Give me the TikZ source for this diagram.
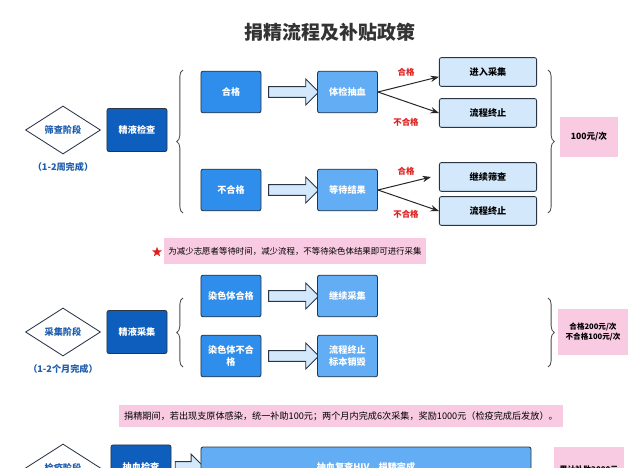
\documentclass[tikz,border=0pt]{standalone}
\usepackage{fontspec}
\setmainfont{Noto Sans CJK SC}
\usetikzlibrary{shapes.geometric,shapes.arrows,arrows.meta,decorations.pathreplacing}

\definecolor{deepblue}{HTML}{0E5EBE}
\definecolor{midblue}{HTML}{2F8DEB}
\definecolor{softblue}{HTML}{62ADF3}
\definecolor{paleblue}{HTML}{D3E8FB}
\definecolor{notepink}{HTML}{F9CBE2}
\definecolor{edge}{HTML}{2A3645}
\definecolor{labred}{HTML}{E0201E}
\definecolor{stageblue}{HTML}{1E5DAE}

\begin{document}
\begin{tikzpicture}[
    x=0.025cm, y=-0.025cm,
    txt/.style={font=\fontsize{6.5}{8}\selectfont\bfseries},
    stage/.style={diamond, draw=edge, line width=0.6pt, fill=white, minimum width=1.875cm, minimum height=1.2cm, inner sep=0pt, text=stageblue, txt},
    period/.style={text=stageblue, txt},
    main/.style={rectangle, rounded corners=1.5pt, draw=edge, line width=0.6pt, fill=deepblue, text=white, align=center, minimum width=1.5cm, minimum height=1.075cm, txt},
    cond/.style={main, fill=midblue, minimum height=1.04cm},
    check/.style={main, fill=softblue, minimum height=1.04cm},
    result/.style={main, fill=paleblue, text=black, minimum width=2.43cm, minimum height=0.72cm},
    fee/.style={rectangle, fill=notepink, align=center, font=\fontsize{6.1}{7.5}\selectfont\bfseries},
    note/.style={rectangle, fill=notepink, font=\fontsize{6}{7}\selectfont},
    verdict/.style={text=labred, font=\fontsize{6}{7}\selectfont\bfseries},
    bigarrow/.style={single arrow, draw=edge, line width=0.6pt, fill=paleblue, inner sep=3.5pt, single arrow head extend=0.19cm, minimum height=1.25cm},
    thinarrow/.style={-{Stealth[length=6pt,width=4.5pt]}, draw=black!85, line width=0.7pt},
    curly/.style={decorate, decoration={brace, amplitude=4.5pt}, draw=black!70, line width=0.6pt}
]
    \fill[white] (0,0) rectangle (640,468);
    \useasboundingbox (0,0) rectangle (640,468);

    \node[font=\fontsize{13.5}{16}\selectfont\bfseries, text=black!80] (title) at (330,32) {捐精流程及补贴政策};

    % screening stage
    \node[stage] (stage1) at (63,130) {筛查阶段};
    \node[period] (time1) at (63,167) {（1-2周完成）};
    \node[main] (semen1) at (137,130) {精液检查};

    \node[cond] (ok1) at (231,92) {合格};
    \node[cond] (bad1) at (231,190) {不合格};
    \node[bigarrow] (ba1) at (291,92) {};
    \node[bigarrow] (ba2) at (291,190) {};
    \node[check] (exam1) at (347.5,92) {体检抽血};
    \node[check] (wait1) at (347.5,190) {等待结果};

    \node[result] (enter1) at (488,72) {进入采集};
    \node[result] (stop1) at (488,113) {流程终止};
    \node[result] (cont1) at (488,177) {继续筛查};
    \node[result] (stop2) at (488,211) {流程终止};

    \draw[thinarrow] (exam1.east) -- ([yshift=-0.12cm]enter1.west);
    \draw[thinarrow] (exam1.east) -- (stop1.west);
    \draw[thinarrow] (wait1.east) -- ([xshift=-0.2cm]cont1.west);
    \draw[thinarrow] (wait1.east) -- (stop2.west);

    \node[verdict] (yes1) at (406,72) {合格};
    \node[verdict] (no1) at (406,122) {不合格};
    \node[verdict] (yes2) at (406,171) {合格};
    \node[verdict] (no2) at (406,214) {不合格};

    \draw[curly] (183,213) -- (183,70);
    \draw[curly] (548,70) -- (548,213);
    \node[fee, minimum width=1.43cm, minimum height=1cm] (fee1) at (589,137) {100元/次};

    \node[star, star points=5, star point ratio=2.4, fill=labred, minimum size=0.26cm, inner sep=0pt] (mark) at (157,252) {};
    \node[note, minimum width=6.25cm, minimum height=0.65cm] (note1) at (295,251) {为减少志愿者等待时间，减少流程，不等待染色体结果即可进行采集};

    % collection stage
    \node[stage] (stage2) at (63,332) {采集阶段};
    \node[period] (time2) at (63,369) {（1-2个月完成）};
    \node[main] (semen2) at (137,332) {精液采集};

    \node[cond] (chok) at (231,296) {染色体合格};
    \node[cond] (chbad) at (231,356) {染色体不合\\格};
    \node[bigarrow] (ba3) at (291,296) {};
    \node[bigarrow] (ba4) at (291,356) {};
    \node[check] (go2) at (347.5,296) {继续采集};
    \node[check] (stop3) at (347.5,356) {流程终止\\标本销毁};

    \draw[curly] (183,367) -- (183,298);
    \draw[curly] (548,298) -- (548,367);
    \node[fee, minimum width=1.73cm, minimum height=1.13cm, font=\fontsize{5.4}{6.6}\selectfont\bfseries] (fee2) at (593,332) {合格200元/次\\不合格100元/次};

    \node[note, minimum width=11.1cm, minimum height=0.55cm, font=\fontsize{6.5}{7.5}\selectfont] (note2) at (341,416) {捐精期间，若出现支原体感染，统一补助100元；两个月内完成6次采集，奖励1000元（检疫完成后发放）。};

    % quarantine stage
    \node[stage] (stage3) at (63,468) {检疫阶段};
    \node[main, minimum height=1.1cm] (blood3) at (141,467) {抽血检查};
    \node[bigarrow, minimum height=0.72cm] (ba5) at (187,467) {};
    \node[check, minimum width=8.25cm, minimum height=1.0cm] (final3) at (366,467) {抽血复查HIV，捐精完成};
    \node[fee, minimum width=1.73cm, minimum height=1.13cm, font=\fontsize{5.6}{7}\selectfont\bfseries] (fee3) at (589,470) {累计补助2000元};
\end{tikzpicture}
\end{document}
